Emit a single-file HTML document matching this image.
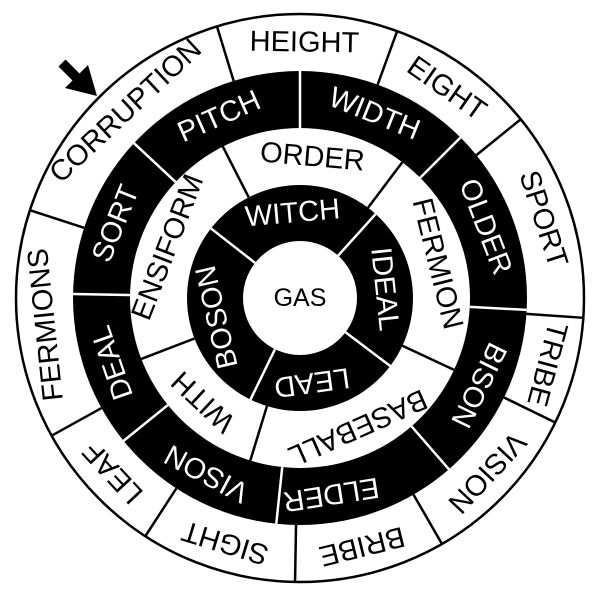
<!DOCTYPE html>
<html>
<head>
<meta charset="utf-8">
<style>
  html,body{margin:0;padding:0;background:#fff;}
  svg{display:block;}
  text{font-family:"Liberation Sans",Arial,sans-serif;font-size:29px;}
</style>
</head>
<body>
<svg id="wheel" width="600" height="598" viewBox="0 0 600 598" xmlns="http://www.w3.org/2000/svg">
  <circle cx="300" cy="298" r="284" fill="#fff" stroke="#000" stroke-width="2.5"/>
  <circle cx="300" cy="298" r="227" fill="#000"/>
  <circle cx="300" cy="298" r="170" fill="#fff"/>
  <circle cx="300" cy="298" r="113" fill="#000"/>
  <circle cx="300" cy="298" r="57" fill="#fff"/>
  <g id="lines"></g>
  <g id="labels"></g>
  <text x="300" y="298" text-anchor="middle" dominant-baseline="central" style="font-size:25px">GAS</text>
  <g>
    <line x1="62" y1="63" x2="84" y2="85" stroke="#000" stroke-width="10"/>
    <polygon points="97,96 65,88 88,65" fill="#000"/>
  </g>
</svg>
<script>
// ring 1 (outer)
const outerWords = ["HEIGHT","EIGHT","SPORT","TRIBE","VISION","BRIBE","SIGHT","LEAF","FERMIONS","CORRUPTION"];
const outerBounds = [-17,20,51,94,116,150,181,213,241,288];
const outerAngles = [1,35,72,105,133,166,197,227,264,317];
// ring 2 (black)
const ring2Words = ["WIDTH","OLDER","BISON","ELDER","VISON","DEAL","SORT","PITCH"];
const ring2Bounds = [0,45,93,139,186,231,271,313];
const ring2Angles = [22,69,116,171,208,251,292,336];
// ring 3 (white)
const ring3Words = ["ORDER","FERMION","BASEBALL","WITH","ENSIFORM"];
const ring3Bounds = [-27,37,115,197,249];
const ring3Angles = [5,76,156,223,291];
// ring 4 (inner black)
const ring4Words = ["WITCH","IDEAL","LEAD","BOSON"];
const ring4Bounds = [-52,42,127,206];
const ring4Angles = [355,84,172,257];

const CX=300, CY=298;
const rings = [
  {words:outerWords, bounds:outerBounds, angles:outerAngles, r0:227, r1:284, fg:"#000", name:"outer"},
  {words:ring2Words, bounds:ring2Bounds, angles:ring2Angles, r0:170, r1:227, fg:"#fff", name:"second"},
  {words:ring3Words, bounds:ring3Bounds, angles:ring3Angles, r0:113, r1:170, fg:"#000", name:"third"},
  {words:ring4Words, bounds:ring4Bounds, angles:ring4Angles, r0:57, r1:113, fg:"#fff", name:"inner"}
];
const NS="http://www.w3.org/2000/svg";
const lines=document.getElementById('lines');
const labels=document.getElementById('labels');
function pt(a,r){const t=a*Math.PI/180;return [CX+r*Math.sin(t), CY-r*Math.cos(t)];}
rings.forEach(ring=>{
  const n=ring.bounds.length;
  for(let i=0;i<n;i++){
    const a=ring.bounds[i];
    const p0=pt(a,ring.r0), p1=pt(a,ring.r1);
    const l=document.createElementNS(NS,'line');
    
    
    l.setAttribute('x1',p0[0]);l.setAttribute('y1',p0[1]);
    l.setAttribute('x2',p1[0]);l.setAttribute('y2',p1[1]);
    l.setAttribute('stroke',ring.fg);l.setAttribute('stroke-width','2.5');
    lines.appendChild(l);
    const mid=ring.angles[i];
    const rm=(ring.r0+ring.r1)/2;
    const p=pt(mid,rm);
    const t=document.createElementNS(NS,'text');
    
    
    t.setAttribute('x',p[0]);t.setAttribute('y',p[1]);
    t.setAttribute('text-anchor','middle');
    t.setAttribute('dominant-baseline','central');
    t.setAttribute('fill',ring.fg);
    t.setAttribute('transform','rotate('+mid+' '+p[0]+' '+p[1]+')');
    t.textContent=ring.words[i];
    labels.appendChild(t);
  }
});
</script>
</body>
</html>
